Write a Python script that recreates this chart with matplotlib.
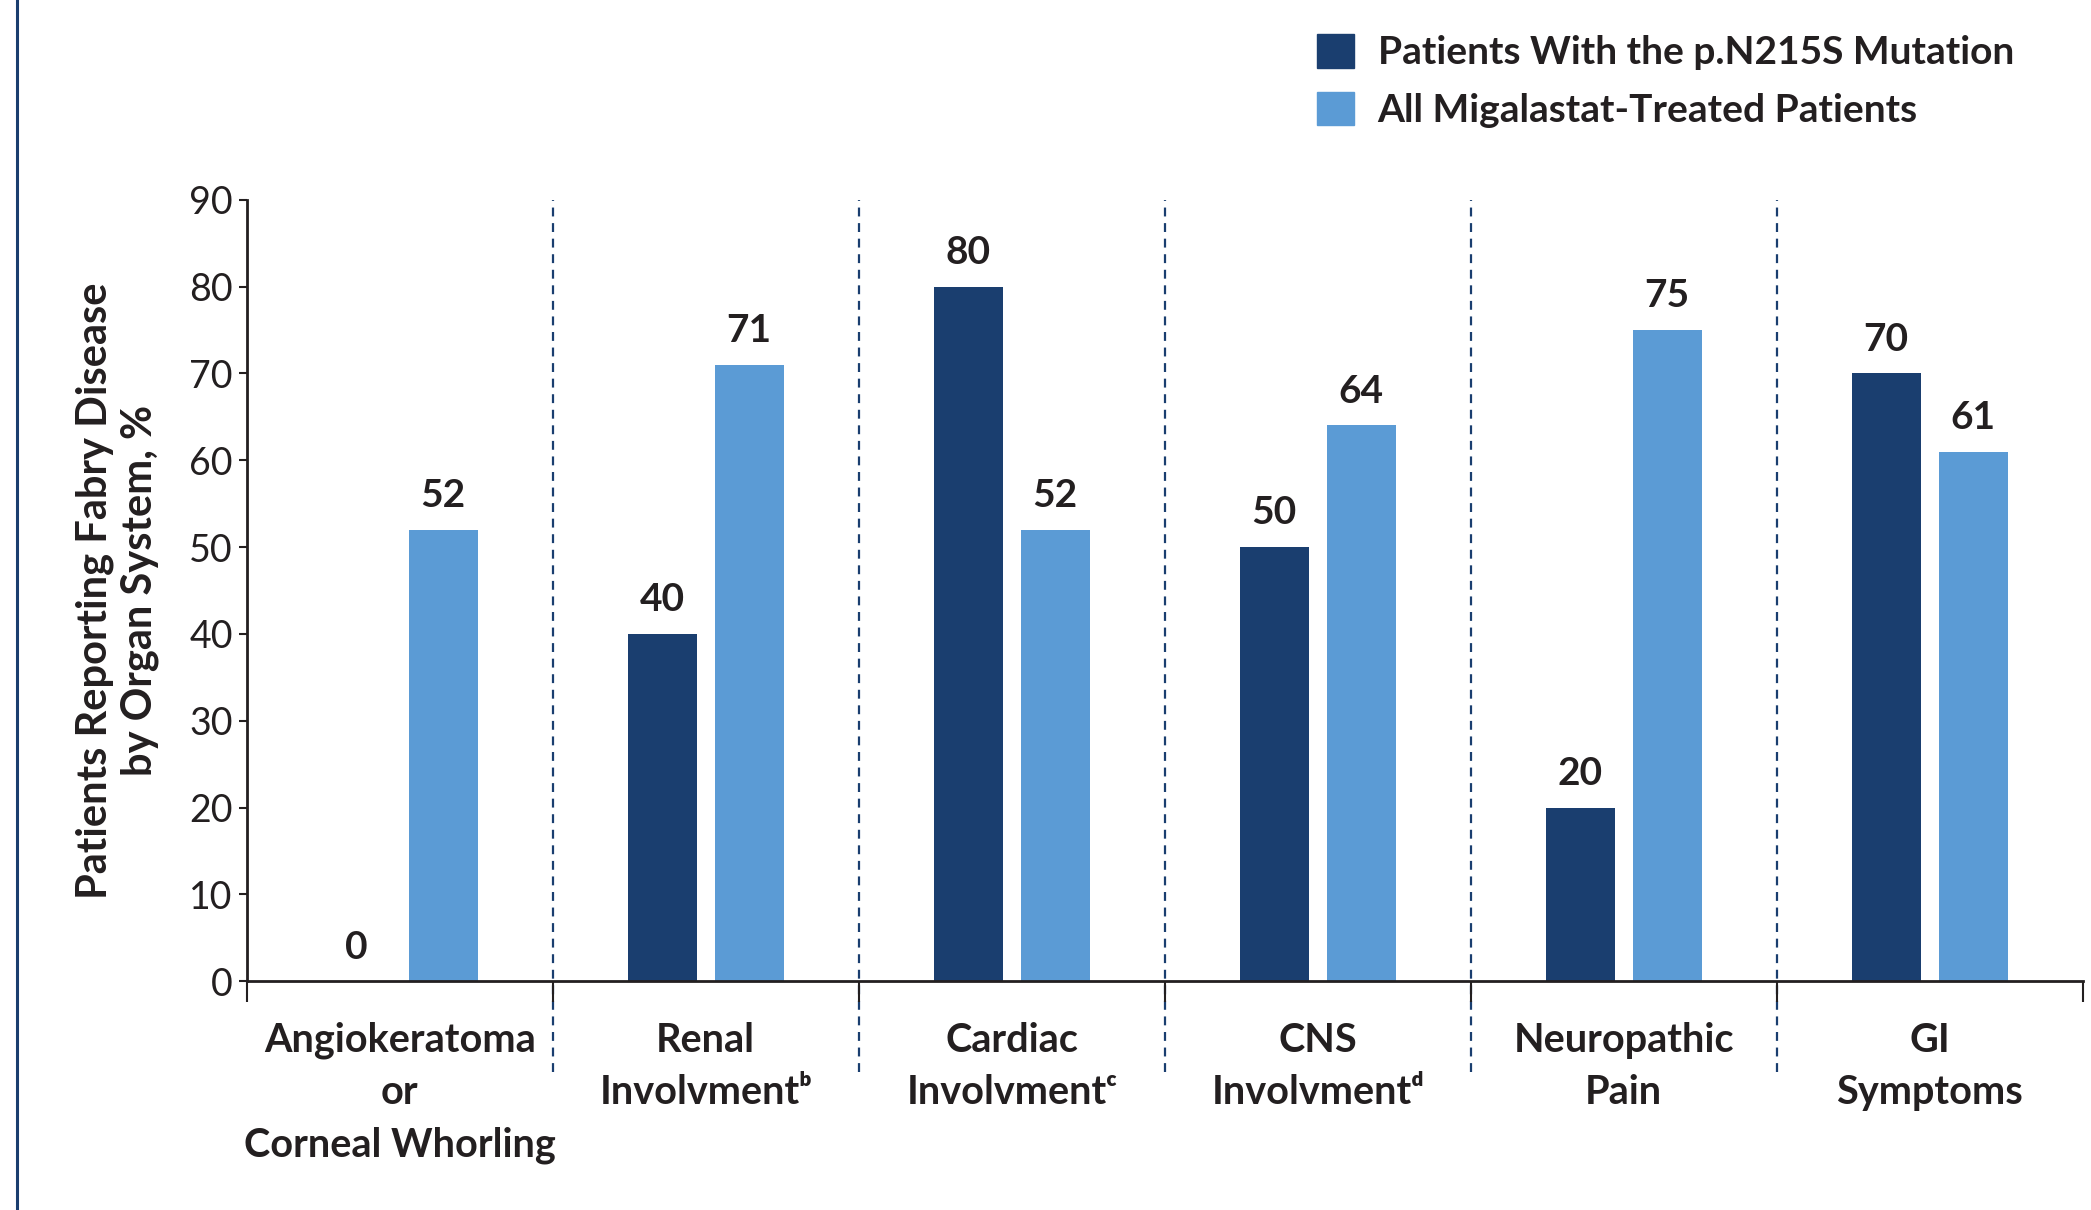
import matplotlib.pyplot as plt
from matplotlib.lines import Line2D
from matplotlib.patches import Patch
import numpy as np

plt.rcParams['font.family'] = ['Lato', 'DejaVu Sans']

categories = ['Angiokeratoma\nor\nCorneal Whorling',
              'Renal\nInvolvment\u1d47',
              'Cardiac\nInvolvment\u1d9c',
              'CNS\nInvolvment\u1d48',
              'Neuropathic\nPain',
              'GI\nSymptoms']
mutation = [0, 40, 80, 50, 20, 70]
all_treated = [52, 71, 52, 64, 75, 61]
series_names = ['Patients With the p.N215S Mutation', 'All Migalastat-Treated Patients']

DARK = '#1a3e6f'
LIGHT = '#5b9bd5'
INK = '#231f20'

fig = plt.figure(figsize=(20.91, 12.10), dpi=100)
ax = fig.add_axes([0.118, 0.189, 0.878, 0.646])

x = np.arange(len(categories))
off = 0.142
w = 0.226
ax.bar(x - off, mutation, w, color=DARK)
ax.bar(x + off, all_treated, w, color=LIGHT)

# value labels
for xi, v in zip(x - off, mutation):
    ax.annotate(str(v), (xi, v), xytext=(0, 12), textcoords='offset points',
                ha='center', va='bottom', fontsize=28, fontweight='bold', color=INK)
for xi, v in zip(x + off, all_treated):
    ax.annotate(str(v), (xi, v), xytext=(0, 12), textcoords='offset points',
                ha='center', va='bottom', fontsize=28, fontweight='bold', color=INK)

# dashed separators between groups
for b in x[:-1] + 0.5:
    ax.plot([b, b], [-10.4, 90], color=DARK, lw=1.6, ls=(0, (4, 3)), clip_on=False, zorder=1)

ax.set_xlim(-0.5, len(categories) - 0.5)
ax.set_ylim(0, 90)
ax.set_yticks(np.arange(0, 91, 10))
ax.tick_params(axis='y', labelsize=27, length=6, width=1.5, color=INK, labelcolor=INK, pad=4)

ax.set_xticks(np.arange(-0.5, len(categories), 1.0))
ax.set_xticklabels([])
ax.tick_params(axis='x', which='major', length=15, width=1.5, color=INK)
ax.set_xticks(x, minor=True)
ax.set_xticklabels(categories, minor=True, fontsize=28.5, fontweight='bold', color=INK,
                   linespacing=1.5, va='top')
ax.tick_params(axis='x', which='minor', length=0, pad=29)

for s in ['top', 'right']:
    ax.spines[s].set_visible(False)
for s in ['left', 'bottom']:
    ax.spines[s].set_linewidth(2)
    ax.spines[s].set_color(INK)

ax.set_ylabel('Patients Reporting Fabry Disease\nby Organ System, %', fontsize=30,
              fontweight='bold', color=INK, linespacing=1.2, labelpad=22)

handles = [Patch(color=DARK), Patch(color=LIGHT)]
fig.legend(handles, series_names, loc='upper left', bbox_to_anchor=(1294 / 2091, 1 - 11 / 1210),
           frameon=False, prop={'weight': 'bold', 'size': 28}, borderpad=0.1,
           handlelength=0.95, handleheight=0.95, handletextpad=0.6, labelspacing=0.55)
for t in fig.legends[0].get_texts():
    t.set_color(INK)

# left border line
fig.add_artist(Line2D([17 / 2091, 17 / 2091], [0, 1], color=DARK, lw=2.2))

fig.savefig('out.png', dpi=100)
